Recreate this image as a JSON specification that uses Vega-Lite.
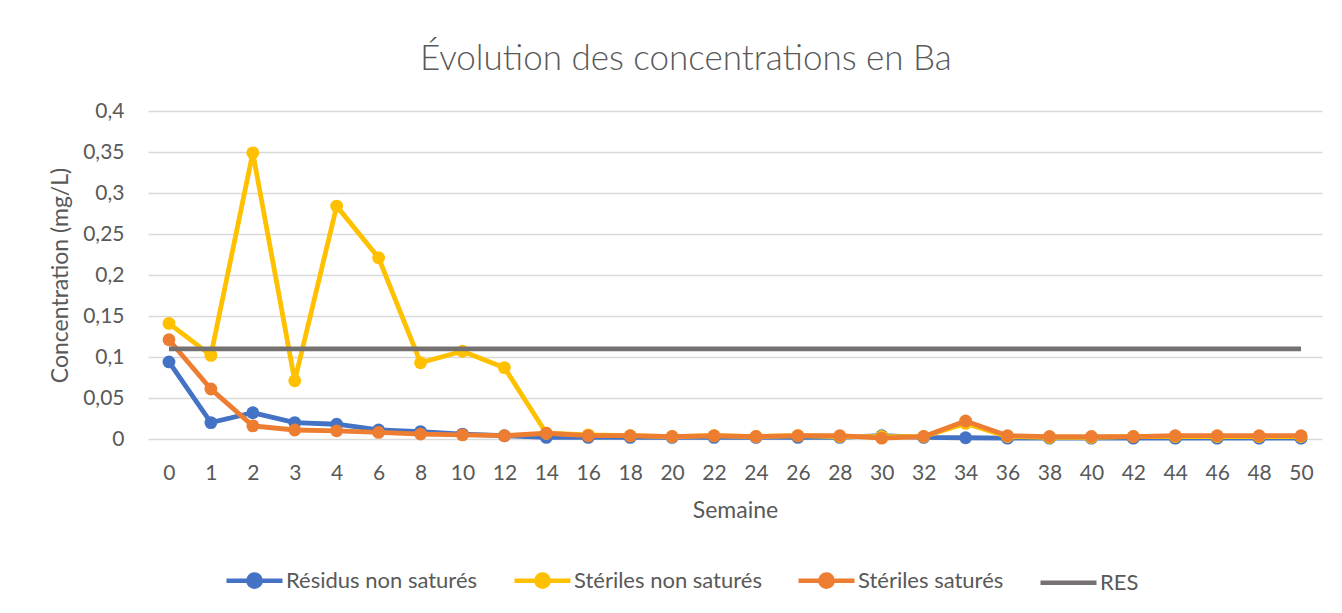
{
  "$schema": "https://vega.github.io/schema/vega-lite/v6.json",
  "width": 1174,
  "height": 328,
  "autosize": "none",
  "padding": {"left": 148, "top": 111, "right": 20, "bottom": 174},
  "background": "white",
  "title": {
    "text": "Évolution des concentrations en Ba",
    "frame": "bounds",
    "anchor": "middle",
    "font": "Lato",
    "fontSize": 35,
    "fontWeight": 300,
    "color": "#595959",
    "baseline": "alphabetic",
    "offset": -5
  },
  "data": {
    "values": [
      {"semaine": 0, "serie": "Résidus non saturés", "conc": 0.094},
      {"semaine": 1, "serie": "Résidus non saturés", "conc": 0.020},
      {"semaine": 2, "serie": "Résidus non saturés", "conc": 0.032},
      {"semaine": 3, "serie": "Résidus non saturés", "conc": 0.020},
      {"semaine": 4, "serie": "Résidus non saturés", "conc": 0.018},
      {"semaine": 6, "serie": "Résidus non saturés", "conc": 0.011},
      {"semaine": 8, "serie": "Résidus non saturés", "conc": 0.009},
      {"semaine": 10, "serie": "Résidus non saturés", "conc": 0.006},
      {"semaine": 12, "serie": "Résidus non saturés", "conc": 0.004},
      {"semaine": 14, "serie": "Résidus non saturés", "conc": 0.002},
      {"semaine": 16, "serie": "Résidus non saturés", "conc": 0.002},
      {"semaine": 18, "serie": "Résidus non saturés", "conc": 0.002},
      {"semaine": 20, "serie": "Résidus non saturés", "conc": 0.002},
      {"semaine": 22, "serie": "Résidus non saturés", "conc": 0.002},
      {"semaine": 24, "serie": "Résidus non saturés", "conc": 0.002},
      {"semaine": 26, "serie": "Résidus non saturés", "conc": 0.002},
      {"semaine": 28, "serie": "Résidus non saturés", "conc": 0.002},
      {"semaine": 30, "serie": "Résidus non saturés", "conc": 0.004},
      {"semaine": 32, "serie": "Résidus non saturés", "conc": 0.002},
      {"semaine": 34, "serie": "Résidus non saturés", "conc": 0.0015},
      {"semaine": 36, "serie": "Résidus non saturés", "conc": 0.001},
      {"semaine": 38, "serie": "Résidus non saturés", "conc": 0.001},
      {"semaine": 40, "serie": "Résidus non saturés", "conc": 0.001},
      {"semaine": 42, "serie": "Résidus non saturés", "conc": 0.001},
      {"semaine": 44, "serie": "Résidus non saturés", "conc": 0.001},
      {"semaine": 46, "serie": "Résidus non saturés", "conc": 0.001},
      {"semaine": 48, "serie": "Résidus non saturés", "conc": 0.001},
      {"semaine": 50, "serie": "Résidus non saturés", "conc": 0.001},
      {"semaine": 0, "serie": "Stériles non saturés", "conc": 0.141},
      {"semaine": 1, "serie": "Stériles non saturés", "conc": 0.102},
      {"semaine": 2, "serie": "Stériles non saturés", "conc": 0.349},
      {"semaine": 3, "serie": "Stériles non saturés", "conc": 0.071},
      {"semaine": 4, "serie": "Stériles non saturés", "conc": 0.284},
      {"semaine": 6, "serie": "Stériles non saturés", "conc": 0.221},
      {"semaine": 8, "serie": "Stériles non saturés", "conc": 0.093},
      {"semaine": 10, "serie": "Stériles non saturés", "conc": 0.107},
      {"semaine": 12, "serie": "Stériles non saturés", "conc": 0.087},
      {"semaine": 14, "serie": "Stériles non saturés", "conc": 0.007},
      {"semaine": 16, "serie": "Stériles non saturés", "conc": 0.005},
      {"semaine": 18, "serie": "Stériles non saturés", "conc": 0.004},
      {"semaine": 20, "serie": "Stériles non saturés", "conc": 0.003},
      {"semaine": 22, "serie": "Stériles non saturés", "conc": 0.004},
      {"semaine": 24, "serie": "Stériles non saturés", "conc": 0.003},
      {"semaine": 26, "serie": "Stériles non saturés", "conc": 0.004},
      {"semaine": 28, "serie": "Stériles non saturés", "conc": 0.003},
      {"semaine": 30, "serie": "Stériles non saturés", "conc": 0.003},
      {"semaine": 32, "serie": "Stériles non saturés", "conc": 0.003},
      {"semaine": 34, "serie": "Stériles non saturés", "conc": 0.019},
      {"semaine": 36, "serie": "Stériles non saturés", "conc": 0.003},
      {"semaine": 38, "serie": "Stériles non saturés", "conc": 0.002},
      {"semaine": 40, "serie": "Stériles non saturés", "conc": 0.002},
      {"semaine": 42, "serie": "Stériles non saturés", "conc": 0.003},
      {"semaine": 44, "serie": "Stériles non saturés", "conc": 0.003},
      {"semaine": 46, "serie": "Stériles non saturés", "conc": 0.003},
      {"semaine": 48, "serie": "Stériles non saturés", "conc": 0.003},
      {"semaine": 50, "serie": "Stériles non saturés", "conc": 0.003},
      {"semaine": 0, "serie": "Stériles saturés", "conc": 0.121},
      {"semaine": 1, "serie": "Stériles saturés", "conc": 0.061},
      {"semaine": 2, "serie": "Stériles saturés", "conc": 0.016},
      {"semaine": 3, "serie": "Stériles saturés", "conc": 0.011},
      {"semaine": 4, "serie": "Stériles saturés", "conc": 0.010},
      {"semaine": 6, "serie": "Stériles saturés", "conc": 0.008},
      {"semaine": 8, "serie": "Stériles saturés", "conc": 0.006},
      {"semaine": 10, "serie": "Stériles saturés", "conc": 0.005},
      {"semaine": 12, "serie": "Stériles saturés", "conc": 0.004},
      {"semaine": 14, "serie": "Stériles saturés", "conc": 0.007},
      {"semaine": 16, "serie": "Stériles saturés", "conc": 0.004},
      {"semaine": 18, "serie": "Stériles saturés", "conc": 0.004},
      {"semaine": 20, "serie": "Stériles saturés", "conc": 0.003},
      {"semaine": 22, "serie": "Stériles saturés", "conc": 0.004},
      {"semaine": 24, "serie": "Stériles saturés", "conc": 0.003},
      {"semaine": 26, "serie": "Stériles saturés", "conc": 0.004},
      {"semaine": 28, "serie": "Stériles saturés", "conc": 0.004},
      {"semaine": 30, "serie": "Stériles saturés", "conc": 0.001},
      {"semaine": 32, "serie": "Stériles saturés", "conc": 0.003},
      {"semaine": 34, "serie": "Stériles saturés", "conc": 0.022},
      {"semaine": 36, "serie": "Stériles saturés", "conc": 0.004},
      {"semaine": 38, "serie": "Stériles saturés", "conc": 0.003},
      {"semaine": 40, "serie": "Stériles saturés", "conc": 0.003},
      {"semaine": 42, "serie": "Stériles saturés", "conc": 0.003},
      {"semaine": 44, "serie": "Stériles saturés", "conc": 0.004},
      {"semaine": 46, "serie": "Stériles saturés", "conc": 0.004},
      {"semaine": 48, "serie": "Stériles saturés", "conc": 0.004},
      {"semaine": 50, "serie": "Stériles saturés", "conc": 0.004},
      {"semaine": 0, "serie": "RES", "conc": 0.11},
      {"semaine": 1, "serie": "RES", "conc": 0.11},
      {"semaine": 2, "serie": "RES", "conc": 0.11},
      {"semaine": 3, "serie": "RES", "conc": 0.11},
      {"semaine": 4, "serie": "RES", "conc": 0.11},
      {"semaine": 6, "serie": "RES", "conc": 0.11},
      {"semaine": 8, "serie": "RES", "conc": 0.11},
      {"semaine": 10, "serie": "RES", "conc": 0.11},
      {"semaine": 12, "serie": "RES", "conc": 0.11},
      {"semaine": 14, "serie": "RES", "conc": 0.11},
      {"semaine": 16, "serie": "RES", "conc": 0.11},
      {"semaine": 18, "serie": "RES", "conc": 0.11},
      {"semaine": 20, "serie": "RES", "conc": 0.11},
      {"semaine": 22, "serie": "RES", "conc": 0.11},
      {"semaine": 24, "serie": "RES", "conc": 0.11},
      {"semaine": 26, "serie": "RES", "conc": 0.11},
      {"semaine": 28, "serie": "RES", "conc": 0.11},
      {"semaine": 30, "serie": "RES", "conc": 0.11},
      {"semaine": 32, "serie": "RES", "conc": 0.11},
      {"semaine": 34, "serie": "RES", "conc": 0.11},
      {"semaine": 36, "serie": "RES", "conc": 0.11},
      {"semaine": 38, "serie": "RES", "conc": 0.11},
      {"semaine": 40, "serie": "RES", "conc": 0.11},
      {"semaine": 42, "serie": "RES", "conc": 0.11},
      {"semaine": 44, "serie": "RES", "conc": 0.11},
      {"semaine": 46, "serie": "RES", "conc": 0.11},
      {"semaine": 48, "serie": "RES", "conc": 0.11},
      {"semaine": 50, "serie": "RES", "conc": 0.11}
    ]
  },
  "encoding": {
    "x": {
      "field": "semaine",
      "type": "ordinal",
      "scale": {"type": "point", "padding": 0.5},
      "axis": {
        "title": "Semaine",
        "labelAngle": 0,
        "ticks": false,
        "domain": false,
        "grid": false,
        "labelPadding": 23,
        "titlePadding": 16
      }
    },
    "y": {
      "field": "conc",
      "type": "quantitative",
      "scale": {"domain": [0, 0.4], "nice": false},
      "axis": {
        "title": "Concentration (mg/L)",
        "values": [0, 0.05, 0.1, 0.15, 0.2, 0.25, 0.3, 0.35, 0.4],
        "labelExpr": "replace(format(datum.value, '.2~f'), '.', ',')",
        "ticks": false,
        "domain": false,
        "grid": true,
        "gridColor": "#D9D9D9",
        "gridWidth": 1.3,
        "labelPadding": 24,
        "titlePadding": 10
      }
    },
    "color": {
      "field": "serie",
      "type": "nominal",
      "scale": {
        "domain": ["Résidus non saturés", "Stériles non saturés", "Stériles saturés", "RES"],
        "range": ["#4472C4", "#FFC000", "#ED7D31", "#767171"]
      },
      "legend": {
        "title": null,
        "orient": "none",
        "direction": "horizontal",
        "legendX": 76,
        "legendY": 439,
        "padding": 0,
        "columnPadding": 27,
        "labelOffset": 1,
        "labelLimit": 400,
        "symbolSize": 3136,
        "symbolStrokeWidth": 4.5,
        "labelFont": "Lato",
        "labelFontSize": 22,
        "labelColor": "#595959",
        "encode": {
          "symbols": {
            "update": {
              "shape": {"signal": "datum.value === 'RES' ? 'stroke' : 'M-1,0L1,0M-0.22,0A0.22,0.22 0 1,0 0.22,0A0.22,0.22 0 1,0 -0.22,0'"},
              "fill": {"scale": "color", "field": "value"},
              "stroke": {"scale": "color", "field": "value"},
              "strokeWidth": {"value": 4.5},
              "opacity": {"value": 1}
            }
          }
        }
      }
    }
  },
  "layer": [
    {
      "transform": [{"filter": "datum.serie === 'Résidus non saturés'"}],
      "mark": {"type": "line", "strokeWidth": 4.8, "point": {"filled": true, "size": 165, "opacity": 1}}
    },
    {
      "transform": [{"filter": "datum.serie === 'Stériles non saturés'"}],
      "mark": {"type": "line", "strokeWidth": 4.8, "point": {"filled": true, "size": 165, "opacity": 1}}
    },
    {
      "transform": [{"filter": "datum.serie === 'Stériles saturés'"}],
      "mark": {"type": "line", "strokeWidth": 4.8, "point": {"filled": true, "size": 165, "opacity": 1}}
    },
    {
      "transform": [{"filter": "datum.serie === 'RES'"}],
      "mark": {"type": "line", "strokeWidth": 4.8}
    }
  ],
  "config": {
    "view": {"stroke": null},
    "font": "Lato",
    "axis": {
      "labelFont": "Lato",
      "labelFontSize": 21,
      "labelColor": "#595959",
      "titleFont": "Lato",
      "titleFontSize": 23,
      "titleFontWeight": "normal",
      "titleColor": "#595959"
    }
  }
}
